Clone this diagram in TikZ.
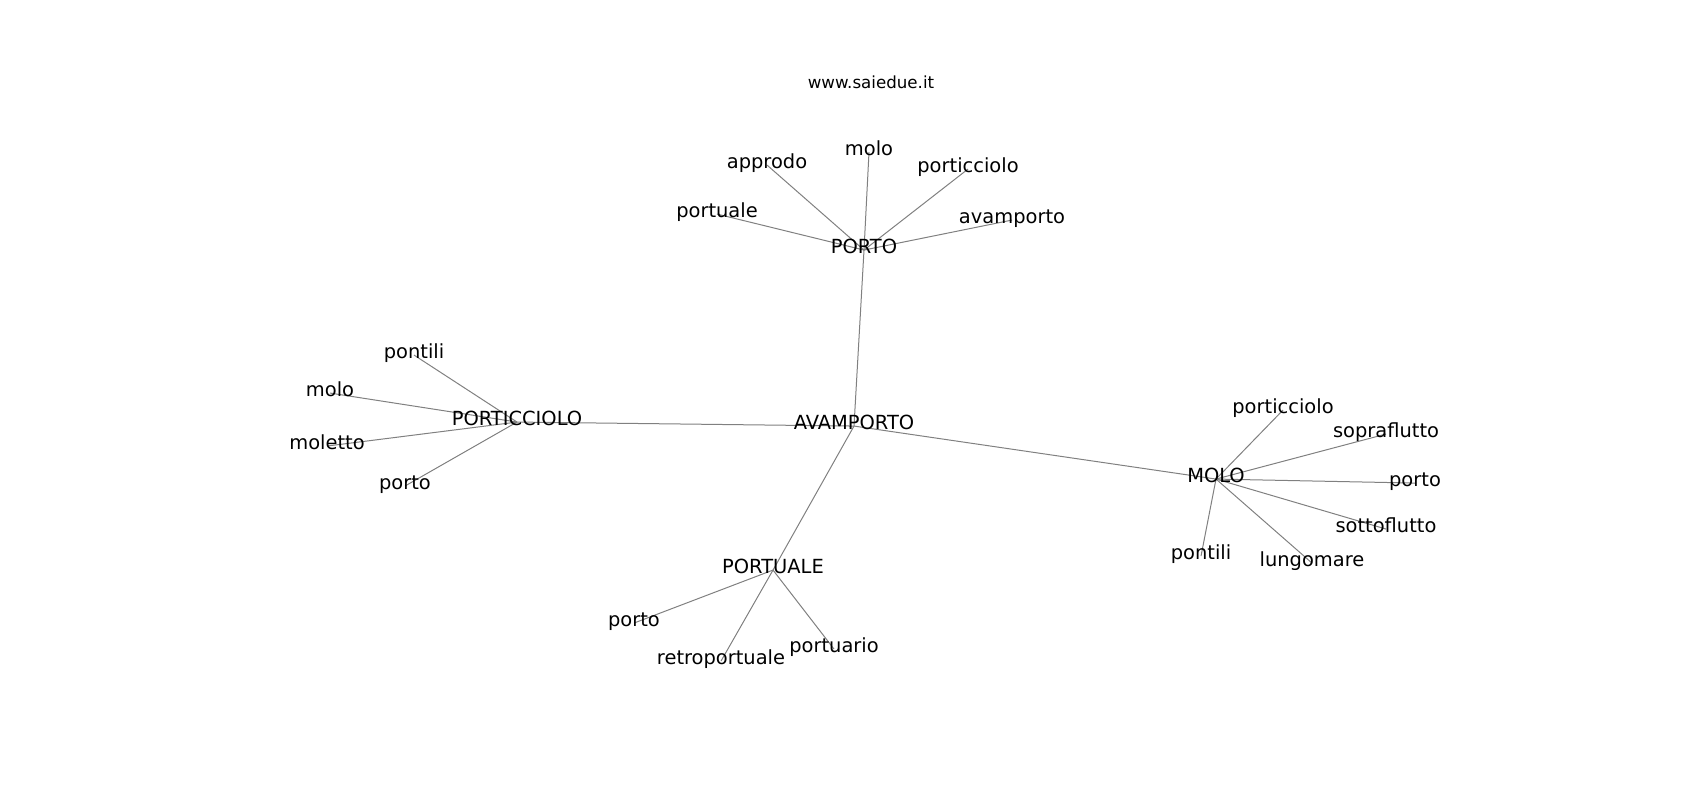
\documentclass[tikz,border=0pt]{standalone}
\usepackage{fontspec}
\setmainfont{DejaVu Sans}
\usetikzlibrary{backgrounds}
\tikzset{
	word/.style={font=\fontsize{14}{16}\selectfont, inner sep=0pt, text height=0.76em, text depth=0.21em, yshift=-2.2pt},
	link/.style={draw=gray, line width=0.72pt},
}

\begin{document}
\begin{tikzpicture}[x=0.72pt, y=-0.72pt]
	\useasboundingbox (0,0) rectangle (1700,800);
	
	\node[font=\fontsize{12}{14}\selectfont, inner sep=0pt] (title) at (871,82) {www.saiedue.it};
	
	% hubs
	\node[word] (av) at (854,423) {AVAMPORTO};
	\node[word] (po) at (864,247) {PORTO};
	\node[word] (pc) at (517,419) {PORTICCIOLO};
	\node[word] (mo) at (1216,476) {MOLO};
	\node[word] (pu) at (773,567) {PORTUALE};
	
	% around PORTO
	\node[word] (po1) at (869,149) {molo};
	\node[word] (po2) at (767,162) {approdo};
	\node[word] (po3) at (968,166) {porticciolo};
	\node[word] (po4) at (717,211) {portuale};
	\node[word] (po5) at (1012,217) {avamporto};
	
	% around PORTICCIOLO
	\node[word] (pc1) at (414,352) {pontili};
	\node[word] (pc2) at (330,390) {molo};
	\node[word] (pc3) at (327,443) {moletto};
	\node[word] (pc4) at (405,483) {porto};
	
	% around MOLO
	\node[word] (mo1) at (1283,407) {porticciolo};
	\node[word] (mo2) at (1386,431) {sopraflutto};
	\node[word] (mo3) at (1415,480) {porto};
	\node[word] (mo4) at (1386,526) {sottoflutto};
	\node[word] (mo5) at (1312,560) {lungomare};
	\node[word] (mo6) at (1201,553) {pontili};
	
	% around PORTUALE
	\node[word] (pu1) at (634,620) {porto};
	\node[word] (pu2) at (721,658) {retroportuale};
	\node[word] (pu3) at (834,646) {portuario};
	
	\begin{scope}[on background layer]
		\draw[link] (av.center) -- (po.center);
		\draw[link] (av.center) -- (pc.center);
		\draw[link] (av.center) -- (mo.center);
		\draw[link] (av.center) -- (pu.center);
		
		\draw[link] (po.center) -- (po1.center);
		\draw[link] (po.center) -- (po2.center);
		\draw[link] (po.center) -- (po3.center);
		\draw[link] (po.center) -- (po4.center);
		\draw[link] (po.center) -- (po5.center);
		
		\draw[link] (pc.center) -- (pc1.center);
		\draw[link] (pc.center) -- (pc2.center);
		\draw[link] (pc.center) -- (pc3.center);
		\draw[link] (pc.center) -- (pc4.center);
		
		\draw[link] (mo.center) -- (mo1.center);
		\draw[link] (mo.center) -- (mo2.center);
		\draw[link] (mo.center) -- (mo3.center);
		\draw[link] (mo.center) -- (mo4.center);
		\draw[link] (mo.center) -- (mo5.center);
		\draw[link] (mo.center) -- (mo6.center);
		
		\draw[link] (pu.center) -- (pu1.center);
		\draw[link] (pu.center) -- (pu2.center);
		\draw[link] (pu.center) -- (pu3.center);
	\end{scope}
\end{tikzpicture}
\end{document}
